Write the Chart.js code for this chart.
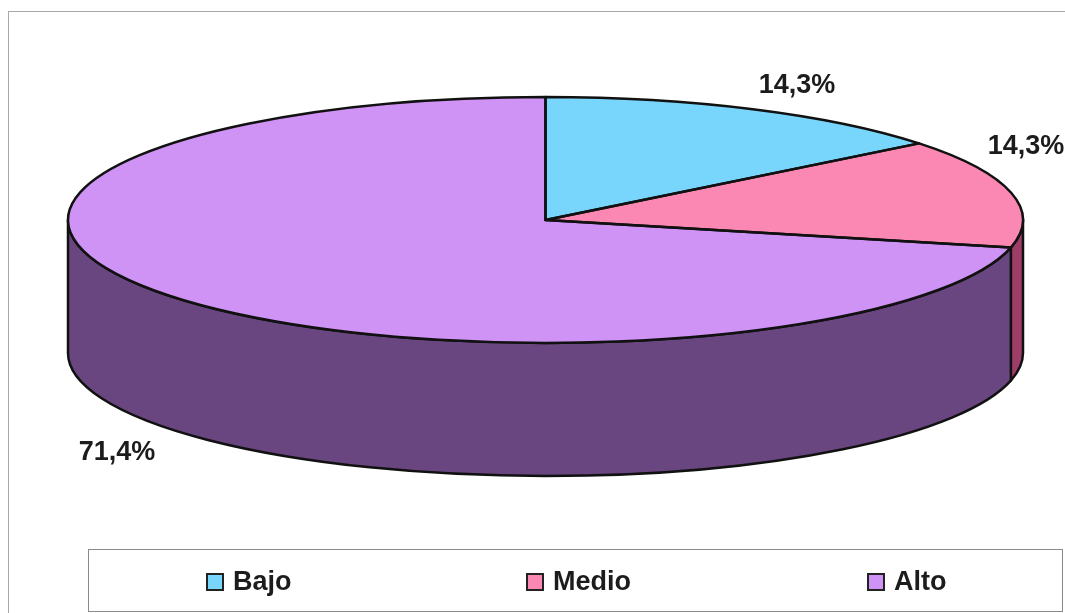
<!DOCTYPE html>
<html>
<head>
<meta charset="utf-8">
<title>Nivel</title>
<script src="https://cdn.jsdelivr.net/npm/chart.js@4"></script>
<style>
  html, body { margin: 0; padding: 0; background: #fff; overflow: hidden; }
  #wrap { position: relative; width: 1065px; height: 613px; }
  #legend {
    position: absolute; left: 88px; top: 549px; width: 975px; height: 63px;
    box-sizing: border-box; border: 1px solid #8a8a8a;
    font: bold 27px "Liberation Sans", Arial, sans-serif; color: #1c1c1c;
  }
  .item { position: absolute; top: 1px; height: 61px; display: flex; align-items: center; }
  .swatch { width: 14px; height: 14px; border: 2px solid #222; margin-right: 9px; }
</style>
</head>
<body>
<div id="wrap">
  <canvas id="pie" width="1065" height="613"></canvas>
  <div id="legend"></div>
</div>
<script>
const categories = ["Bajo", "Medio", "Alto"];
const percents   = [14.3, 14.3, 71.4];
const topColors  = ["#78d5fb", "#fb88b2", "#cf92f5"];
const sideColors = ["#3f7f99", "#9d3d68", "#69467f"];

// hand placed, the original labels don't follow the slices
const labelSpots = [[797, 86], [1026, 147], [117, 453]];
const legendLeft = [117, 437, 778];

const RX = 477.5, RY = 123, DEPTH = 133;

const pie3d = {
  id: "pie3d",
  beforeDraw(chart) {
    const { ctx } = chart;
    ctx.save();
    ctx.strokeStyle = "#a8a8a8";
    ctx.lineWidth = 1;
    ctx.strokeRect(8.5, 11.5, 1100, 700);
    ctx.restore();
  },
  beforeDatasetsDraw(chart) {
    const { ctx } = chart;
    const arcs = chart.getDatasetMeta(0).data;

    // side wall, only the front half of the disc shows
    arcs.forEach((arc, i) => {
      const a = Math.max(arc.startAngle, 0);
      const b = Math.min(arc.endAngle, Math.PI);
      if (a >= b) return;
      ctx.beginPath();
      ctx.ellipse(arc.x, arc.y, RX, RY, 0, a, b);
      ctx.ellipse(arc.x, arc.y + DEPTH, RX, RY, 0, b, a, true);
      ctx.closePath();
      ctx.fillStyle = sideColors[i];
      ctx.fill();
      ctx.strokeStyle = "#111";
      ctx.lineWidth = 2.5;
      ctx.lineJoin = "round";
      ctx.stroke();
    });

    // squash the library's circle into the top ellipse
    const cy = arcs[0].y;
    ctx.save();
    ctx.translate(0, cy);
    ctx.scale(1, RY / RX);
    ctx.translate(0, -cy);
  },
  afterDatasetsDraw(chart) {
    const { ctx } = chart;
    ctx.restore();

    // outlines go here so the line width isn't squashed too
    chart.getDatasetMeta(0).data.forEach(arc => {
      ctx.beginPath();
      ctx.moveTo(arc.x, arc.y);
      ctx.ellipse(arc.x, arc.y, RX, RY, 0, arc.startAngle, arc.endAngle);
      ctx.closePath();
      ctx.strokeStyle = "#111";
      ctx.lineWidth = 2.5;
      ctx.lineJoin = "round";
      ctx.stroke();
    });
  },
  afterDraw(chart) {
    const { ctx } = chart;
    ctx.save();
    ctx.font = 'bold 27px "Liberation Sans", Arial, sans-serif';
    ctx.fillStyle = "#1c1c1c";
    ctx.textAlign = "center";
    ctx.textBaseline = "middle";
    percents.forEach((p, i) => {
      ctx.fillText(p.toFixed(1).replace(".", ",") + "%", labelSpots[i][0], labelSpots[i][1]);
    });
    ctx.restore();
  }
};

const chart = new Chart(document.getElementById("pie"), {
  type: "pie",
  data: {
    labels: categories,
    datasets: [{ data: percents, backgroundColor: topColors, borderWidth: 0, clip: false }]
  },
  options: {
    responsive: false,
    animation: false,
    radius: RX,
    layout: { padding: { left: 26, bottom: 173 } },
    plugins: { legend: { display: false }, tooltip: { enabled: false } }
  },
  plugins: [pie3d]
});

// html legend, the built-in one can't spread its items this wide
const legendBox = document.getElementById("legend");
Chart.overrides.pie.plugins.legend.labels.generateLabels(chart).forEach((item, i) => {
  legendBox.insertAdjacentHTML("beforeend", `
    <div class="item" style="left:${legendLeft[i]}px">
      <span class="swatch" style="background:${item.fillStyle}"></span>${item.text}
    </div>`);
});
</script>
</body>
</html>
